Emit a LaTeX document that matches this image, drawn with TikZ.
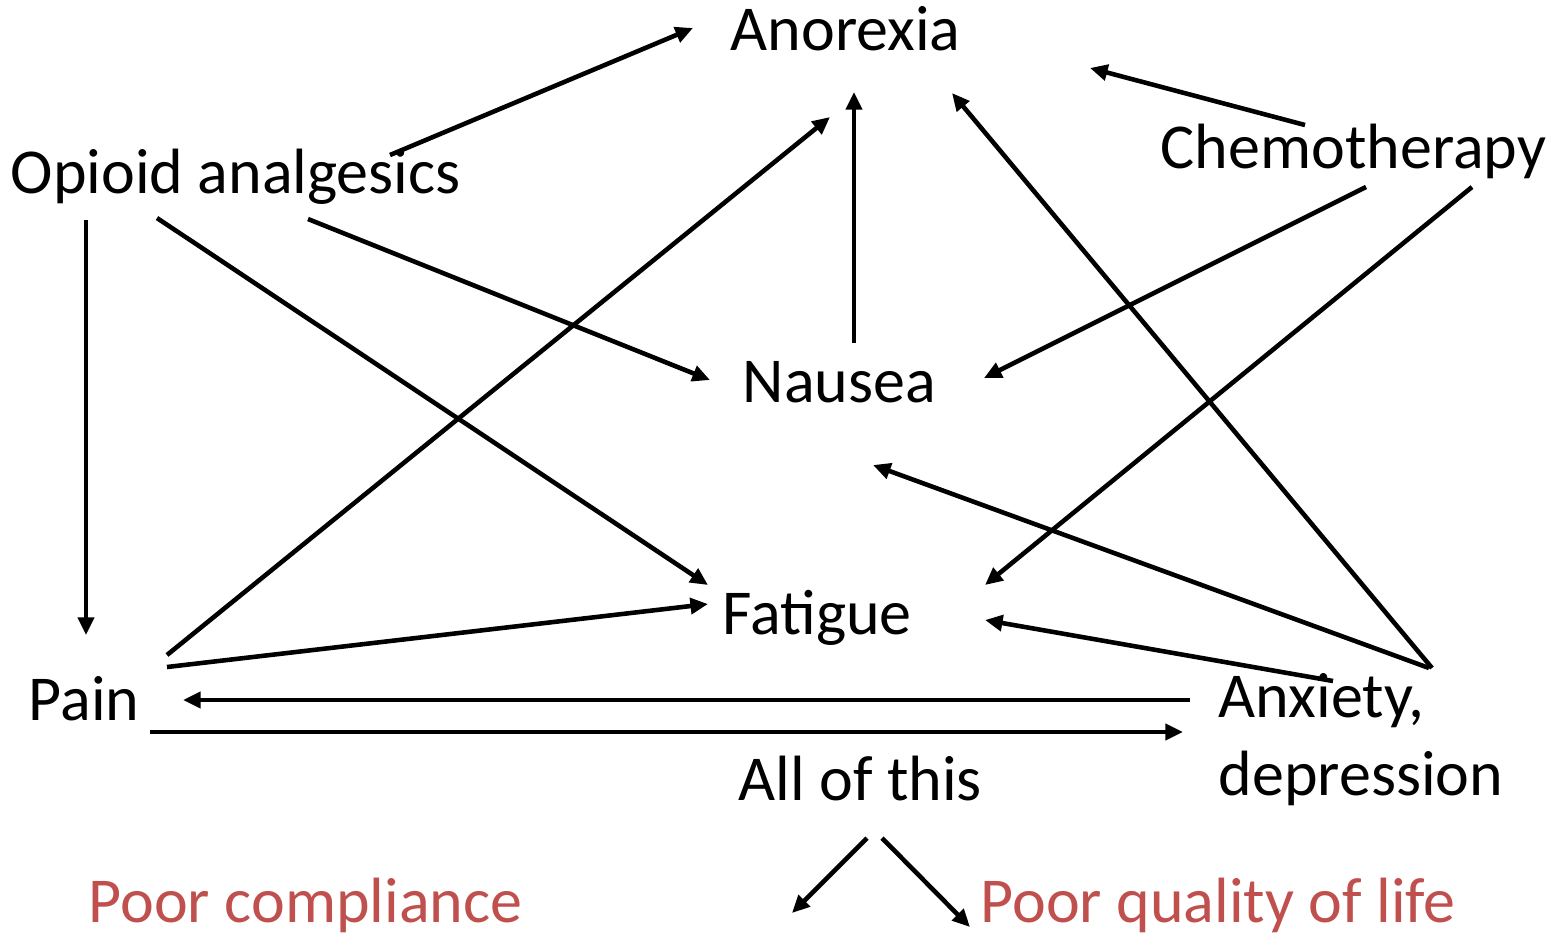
\documentclass[tikz,border=0pt]{standalone}
\usepackage{fontspec}
\setmainfont{Carlito}
\usetikzlibrary{arrows.meta}
\definecolor{redtxt}{HTML}{C0504D}
\tikzset{
  lbl/.style={inner sep=0pt, anchor=base west, font=\fontsize{18.2}{22}\selectfont},
  arr/.style={line width=1.3pt, -{Triangle[length=5pt,width=4.5pt]}},
}
\begin{document}
\begin{tikzpicture}[x=0.01cm,y=-0.01cm]
\useasboundingbox (0,0) rectangle (1551,935);
% labels
\node[lbl] (anorexia) at (730,50) {Anorexia};
\node[lbl] (opioid) at (10,193) {Opioid analgesics};
\node[lbl] (chemo) at (1160,168) {Chemotherapy};
\node[lbl] (nausea) at (742,402) {Nausea};
\node[lbl] (fatigue) at (722,634) {Fatigue};
\node[lbl] (pain) at (28,720) {Pain};
\node[lbl, align=left] (anxiety) at (1218,795) {Anxiety,\\depression};
\node[lbl] (all) at (738,800) {All of this};
\node[lbl, text=redtxt] (poorc) at (88,922) {Poor compliance};
\node[lbl, text=redtxt] (poorq) at (980,922) {Poor quality of life};
% endpoints
\coordinate (o1) at (390,155); \coordinate (a1) at (693,28);
\coordinate (c1) at (1305,125); \coordinate (a2) at (1090,68);
\coordinate (o2) at (86,220); \coordinate (p1) at (86,635);
\coordinate (o3) at (157,218); \coordinate (f1) at (708,585);
\coordinate (o4) at (308,219); \coordinate (n1) at (710,380);
\coordinate (p2) at (167,655); \coordinate (a3) at (830,117);
\coordinate (n2) at (854,343); \coordinate (a4) at (854,92);
\coordinate (x1) at (1432,668); \coordinate (a5) at (952,93);
\coordinate (c2) at (1366,187); \coordinate (n3) at (984,378);
\coordinate (c3) at (1472,187); \coordinate (f2) at (985,585);
\coordinate (x2) at (1429,668); \coordinate (n4) at (873,465);
\coordinate (p3) at (167,667); \coordinate (f3) at (708,604);
\coordinate (x3) at (1333,681); \coordinate (f4) at (985,620);
\coordinate (x4) at (1190,700); \coordinate (p4) at (183,700);
\coordinate (p5) at (150,732); \coordinate (x5) at (1183,732);
\coordinate (l1) at (867,838); \coordinate (pc) at (792,913);
\coordinate (l2) at (882,838); \coordinate (pq) at (970,927);
% arrows
\draw[arr] (o1) -- (a1);
\draw[arr] (c1) -- (a2);
\draw[arr] (o2) -- (p1);
\draw[arr] (o3) -- (f1);
\draw[arr] (o4) -- (n1);
\draw[arr] (p2) -- (a3);
\draw[arr] (n2) -- (a4);
\draw[arr] (x1) -- (a5);
\draw[arr] (c2) -- (n3);
\draw[arr] (c3) -- (f2);
\draw[arr] (x2) -- (n4);
\draw[arr] (p3) -- (f3);
\draw[arr] (x3) -- (f4);
\draw[arr] (x4) -- (p4);
\draw[arr] (p5) -- (x5);
\draw[arr] (l1) -- (pc);
\draw[arr] (l2) -- (pq);
\end{tikzpicture}
\end{document}
